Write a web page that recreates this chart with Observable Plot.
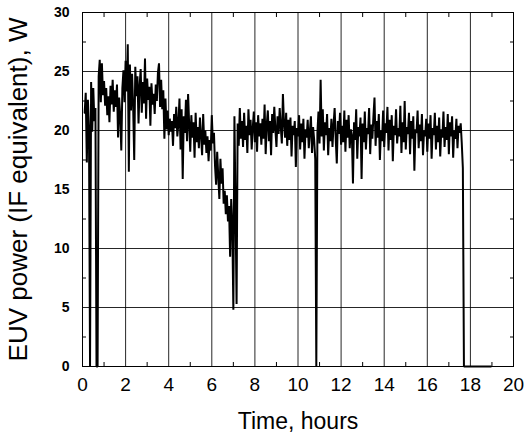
<!DOCTYPE html>
<html>
<head>
<meta charset="utf-8">
<script src="https://cdn.jsdelivr.net/npm/d3@7"></script>
<script src="https://cdn.jsdelivr.net/npm/@observablehq/plot@0.6"></script>
<style>
  body { margin: 0; background: #fff; }
  #chart svg { display: block; }
</style>
</head>
<body>
<div id="chart"></div>
<script>
// EUV source log: power readings (W, IF equivalent) logged every 3 minutes.
const sampleStart = 0.1;   // hours
const sampleStep = 0.05;   // hours between readings
const power = [
  // 0.10 – 1.05 h
  21.5, 23.2, 17.3, 22.6, 20.4, 0, 24.1, 19.9, 23.6, 20.8, 21.9, 0, 0, 24.6, 26.0, 22.4, 25.7, 23.0, 24.2, 22.1,
  // 1.10 – 2.05 h
  23.6, 21.3, 22.9, 20.7, 23.8, 22.2, 24.3, 21.6, 23.4, 22.0, 23.9, 19.4, 22.8, 21.2, 18.3, 23.6, 25.1, 22.4, 25.9, 23.3,
  // 2.10 – 3.05 h
  27.3, 16.5, 25.6, 21.7, 24.8, 22.1, 17.5, 25.4, 22.9, 24.6, 20.6, 23.8, 25.2, 21.5, 24.1, 22.3, 26.1, 21.0, 24.4, 22.6,
  // 3.10 – 4.05 h
  23.7, 20.4, 24.0, 22.2, 23.1, 21.4, 23.9, 22.5, 24.9, 25.7, 22.0, 24.3, 21.8, 23.4, 19.3, 22.7, 20.1, 21.7, 19.6, 21.0,
  // 4.10 – 5.05 h
  19.9, 20.8, 18.7, 21.4, 20.2, 22.0, 19.5, 20.6, 22.7, 18.4, 21.8, 15.9, 21.2, 19.8, 22.6, 19.1, 23.1, 20.5, 18.2, 21.3,
  // 5.10 – 6.05 h
  19.4, 20.7, 17.7, 21.5, 19.0, 20.3, 18.5, 21.1, 19.6, 17.9, 21.4, 18.8, 20.0, 18.1, 19.5, 17.4, 19.2, 18.3, 21.3, 18.9,
  // 6.10 – 7.05 h
  19.8, 17.0, 15.4, 18.2, 16.1, 14.2, 17.6, 15.5, 16.8, 13.8, 14.9, 12.9, 14.5, 12.3, 13.6, 9.3, 14.2, 12.0, 4.8, 21.2,
  // 7.10 – 8.05 h
  13.5, 5.3, 20.6, 18.7, 21.9, 19.3, 20.8, 18.6, 21.5, 19.2, 20.4, 18.1, 21.8, 19.6, 20.9, 18.4, 20.2, 21.6, 19.0, 20.7,
  // 8.10 – 9.05 h
  18.2, 21.3, 19.5, 20.6, 18.8, 21.0, 19.3, 22.2, 18.0, 20.5, 21.7, 19.1, 20.8, 17.9, 21.4, 19.8, 22.0, 20.1, 18.6, 21.2,
  // 9.10 – 10.05 h
  19.7, 21.9, 20.3, 18.9, 23.1, 20.6, 19.4, 21.5, 18.7, 20.9, 19.2, 21.1, 17.8, 20.4, 19.6, 20.8, 16.9, 20.2, 19.5, 21.3,
  // 10.10 – 11.05 h
  18.4, 20.6, 19.0, 21.0, 17.6, 20.1, 19.4, 20.9, 18.5, 19.9, 21.2, 18.1, 20.3, 19.2, 17.6, 0, 19.8, 21.6, 18.9, 24.3,
  // 11.10 – 12.05 h
  19.5, 21.8, 18.3, 20.7, 19.6, 21.4, 17.9, 20.2, 19.1, 21.0, 18.6, 20.5, 21.9, 19.3, 17.2, 20.8, 19.7, 21.5, 18.8, 20.4,
  // 12.10 – 13.05 h
  19.0, 21.7, 18.2, 20.9, 19.4, 21.3, 18.5, 20.1, 19.6, 15.5, 20.7, 19.2, 21.8, 17.6, 20.3, 19.5, 21.1, 15.9, 20.6, 19.0,
  // 13.10 – 14.05 h
  21.6, 18.4, 20.2, 19.7, 21.9, 18.0, 20.5, 19.3, 21.2, 22.8, 18.7, 20.8, 19.4, 21.4, 17.5, 20.0, 19.1, 21.7, 18.6, 20.6,
  // 14.10 – 15.05 h
  19.8, 22.0, 18.3, 20.9, 19.2, 21.3, 17.4, 20.4, 19.6, 21.8, 18.9, 20.2, 19.5, 22.1, 18.1, 20.7, 19.0, 22.5, 18.4, 20.3,
  // 15.10 – 16.05 h
  19.7, 21.5, 18.0, 20.8, 19.3, 21.2, 16.6, 20.1, 19.8, 21.7, 18.5, 20.5, 19.1, 21.4, 17.9, 20.0, 19.5, 21.0, 18.2, 20.6,
  // 16.10 – 17.05 h
  19.3, 21.3, 17.6, 20.2, 19.6, 21.5, 18.4, 20.4, 19.0, 21.1, 17.8, 20.1, 19.4, 21.6, 18.6, 20.3, 19.2, 21.4, 18.0, 20.7,
  // 17.10 – 18.05 h
  19.5, 21.2, 17.7, 20.0, 19.3, 21.0, 18.5, 20.4, 19.8, 20.6, 18.9, 16.8, 0, 0, 0, 0, 0, 0, 0, 0,
  // 18.10 – 18.95 h (source off)
  0, 0, 0, 0, 0, 0, 0, 0, 0, 0, 0, 0, 0, 0, 0, 0, 0, 0
];

const xTicks = [0, 2, 4, 6, 8, 10, 12, 14, 16, 18, 20];
const yTicks = [0, 5, 10, 15, 20, 25, 30];
const xMinor = [1, 3, 5, 7, 9, 11, 13, 15, 17, 19];
const yMinor = [2.5, 7.5, 12.5, 17.5, 22.5, 27.5];
const xGrid = xTicks.slice(1, -1);
const yGrid = yTicks.slice(1, -1);

const readings = power.map((w, i) => ({hours: sampleStart + i * sampleStep, w}));

const font = "'Liberation Sans', Arial, Helvetica, sans-serif";

const chart = Plot.plot({
  width: 524,
  height: 433,
  marginLeft: 82,
  marginRight: 11,
  marginTop: 12,
  marginBottom: 67,
  style: {fontFamily: font, background: "#fff", color: "#000", overflow: "visible"},
  x: {domain: [0, 20]},
  y: {domain: [0, 30]},
  marks: [
    // grid
    Plot.ruleX(xGrid, {stroke: "#000", strokeOpacity: 0.85, strokeWidth: 1}),
    Plot.ruleY(yGrid, {stroke: "#000", strokeOpacity: 0.85, strokeWidth: 1}),
    // power trace
    Plot.line(readings, {x: "hours", y: "w", stroke: "#000", strokeWidth: 2, strokeLinejoin: "miter"}),
    Plot.frame({stroke: "#000", strokeWidth: 1}),
    // inward minor ticks on all four sides
    Plot.axisX({ticks: xMinor, anchor: "bottom", tickSize: -4, tickFormat: () => "", label: null}),
    Plot.axisX({ticks: xMinor, anchor: "top", tickSize: -4, tickFormat: () => "", label: null}),
    Plot.axisY({ticks: yMinor, anchor: "left", tickSize: -4, tickFormat: () => "", label: null}),
    Plot.axisY({ticks: yMinor, anchor: "right", tickSize: -4, tickFormat: () => "", label: null}),
    // tick labels and titles
    Plot.axisX({
      ticks: xTicks, anchor: "bottom", tickSize: 0, tickPadding: 11,
      fontSize: 19, label: null
    }),
    Plot.axisX({
      ticks: [], anchor: "bottom", label: "Time, hours", labelAnchor: "center",
      labelArrow: "none", labelOffset: 62, fontSize: 23
    }),
    Plot.axisY({
      ticks: yTicks, anchor: "left", tickSize: 0, tickPadding: 13,
      fontSize: 14, fontWeight: "bold", label: null
    }),
    Plot.axisY({
      ticks: [], anchor: "left", label: "EUV power (IF equivalent), W", labelAnchor: "center",
      labelArrow: "none", labelOffset: 74, fontSize: 26
    })
  ]
});

document.getElementById("chart").append(chart);
</script>
</body>
</html>
